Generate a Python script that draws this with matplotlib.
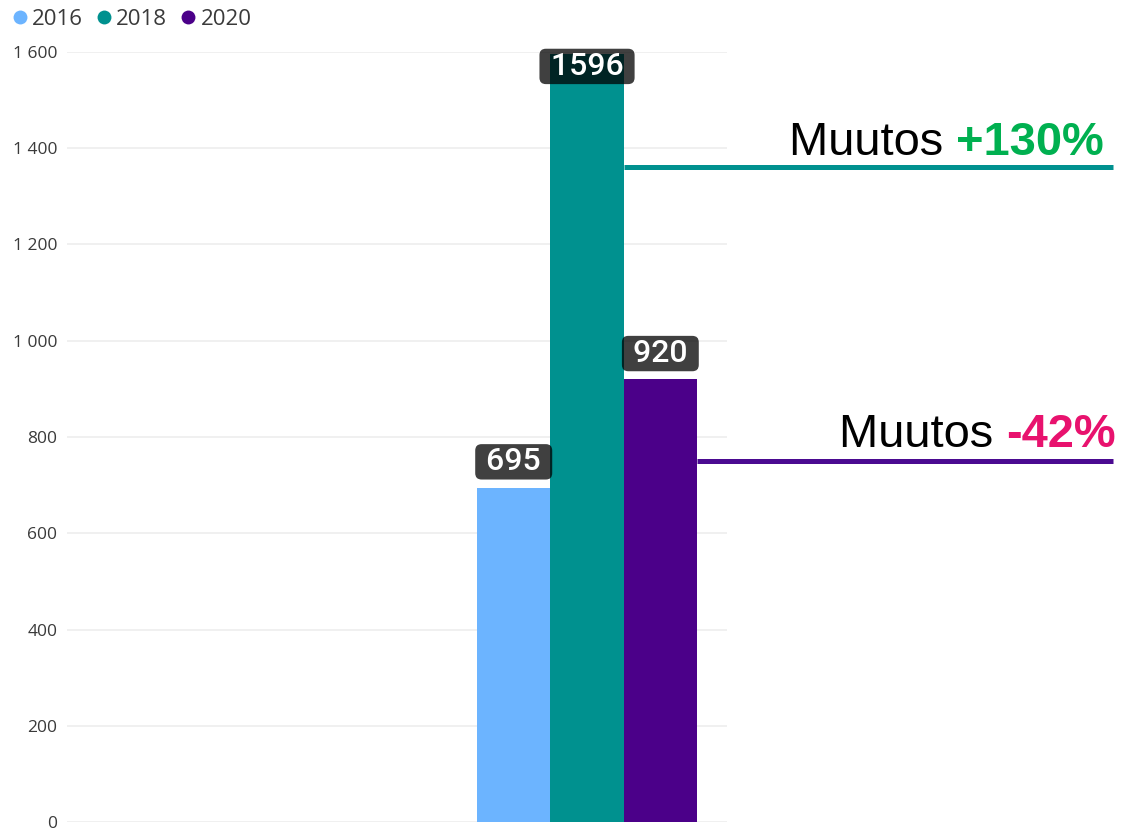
import matplotlib
matplotlib.use("Agg")
import matplotlib.pyplot as plt
from matplotlib.lines import Line2D
from matplotlib.ticker import FuncFormatter

# ---- data ----
years = ["2016", "2018", "2020"]
values = [695, 1596, 920]
changes = ["+130%", "-42%"]
change_colors = ["#00B050", "#E8126E"]
bar_colors = ["#6CB4FF", "#00918F", "#4B0089"]
line_colors = ["#00918F", "#4B0A91"]
change_levels = [1360, 750]
yticks = [0, 200, 400, 600, 800, 1000, 1200, 1400, 1600]

W, H = 1125, 830
fig = plt.figure(figsize=(W / 100, H / 100), dpi=100)
ax = fig.add_axes([67 / W, (H - 822) / H, (727 - 67) / W, (822 - 52) / H])

pos = list(range(len(years)))
bars = ax.bar(pos, values, width=1.0, color=bar_colors, zorder=2)
ax.set_xlim(-0.5 - (477 - 67) / 73.3, 2.5 + (727 - 697) / 73.3)
ax.set_ylim(0, 1600)
ax.set_yticks(yticks)
ax.yaxis.set_major_formatter(FuncFormatter(lambda v, p: f"{int(v):,}".replace(",", " ")))
ax.set_xticks([])
for s in ax.spines.values():
    s.set_visible(False)
ax.tick_params(axis="y", length=0, pad=7, labelsize=12.5, labelcolor="#3a3a3a")
for lab in ax.get_yticklabels():
    lab.set_fontfamily("Open Sans")
ax.grid(axis="y", color="#EEEEEE", linewidth=1.2, zorder=0)
ax.set_axisbelow(True)

# data labels
for x, v in zip(pos, values):
    inside = v > 1500
    off = -9 if inside else 18.5
    ax.annotate(f" {v} ", xy=(x, v), xytext=(0, off), textcoords="offset points",
                ha="center", va="center", color="white", fontsize=23,
                family="Roboto", fontweight="medium", zorder=5, annotation_clip=False,
                bbox=dict(boxstyle="round,pad=0.1,rounding_size=0.2", fc="black",
                          alpha=0.75, ec="none"))

# change lines
x_end = 2.5 + (1113 - 697) / 73.3
for i, (lvl, lc) in enumerate(zip(change_levels, line_colors)):
    x0 = pos[i + 1] + 0.5
    ax.plot([x0, x_end], [lvl, lvl], color=lc, linewidth=3.6, clip_on=False,
            solid_capstyle="butt", zorder=3)

# change texts
text_pos = [(1104, 155), (1116, 447)]
for (px, py), ch, cc in zip(text_pos, changes, change_colors):
    t1 = fig.text(px / W, (H - py) / H, ch, ha="right", va="baseline", fontsize=33.8,
                  family="Liberation Sans", fontweight="bold", color=cc)
    ax.annotate("Muutos ", xy=(0, 0), xycoords=t1, ha="right", va="bottom",
                fontsize=33.8, family="Liberation Sans", color="black",
                annotation_clip=False)

# legend
handles = [Line2D([], [], marker="o", linestyle="none", markersize=10,
                  markerfacecolor=c, markeredgecolor="none") for c in bar_colors]
fig.legend(handles, years, loc="upper left", bbox_to_anchor=(13 / W, 1 - 9 / H),
           ncol=3, frameon=False, handlelength=0.6, handletextpad=0.25,
           columnspacing=0.65, borderpad=0, borderaxespad=0,
           prop={"family": "Open Sans", "size": 16}, labelcolor="#3a3a3a")

fig.savefig("out.png", dpi=100)
